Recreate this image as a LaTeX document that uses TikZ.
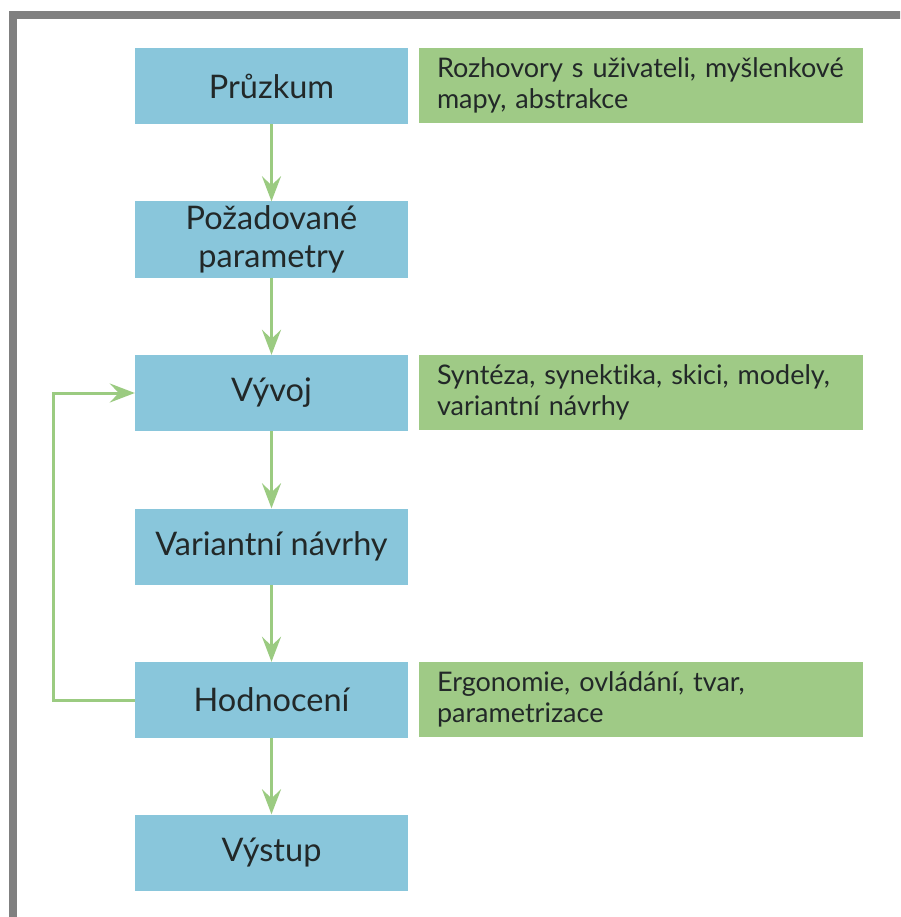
\documentclass[tikz,border=0pt]{standalone}
\usepackage{fontspec}
\setmainfont{Lato}[Ligatures={NoCommon}]
\usetikzlibrary{arrows.meta}
\definecolor{stepblue}{HTML}{89C6DB}
\definecolor{notegreen}{HTML}{9FCA86}
\definecolor{flowgreen}{HTML}{9BCB81}
\definecolor{frame}{HTML}{808080}
\definecolor{ink}{HTML}{222828}
\begin{document}
\begin{tikzpicture}[x=1pt,y=-1pt,
  stepbox/.style={fill=stepblue, minimum width=273pt, minimum height=76pt,
    inner sep=0pt, align=center, text=ink, font=\fontsize{32.5}{38}\selectfont},
  notebox/.style={fill=notegreen, minimum width=444pt, minimum height=75pt,
    text width=408pt, inner xsep=18pt, inner ysep=0pt, align=left, text=ink,
    font=\fontsize{27}{31}\selectfont},
  flow/.style={draw=flowgreen, line width=3pt,
    -{Stealth[length=25pt,width=19pt,inset=9pt]}}]
\useasboundingbox (0,0) rectangle (900,917);
\fill[white] (0,0) rectangle (900,917);
\begin{scope}
  \clip (0,0) rectangle (900,917);
  % outer frame, open to the right and bottom
  \draw[frame, line width=8pt] (12.5,940) -- (12.5,15.5) -- (920,15.5);
\end{scope}

% main process steps
\node[stepbox] (s1) at (271.5,86)  {Průzkum};
\node[stepbox] (s2) at (271.5,239.5) {Požadované\\parametry};
\node[stepbox] (s3) at (271.5,393) {Vývoj};
\node[stepbox] (s4) at (271.5,546.5) {Variantní návrhy};
\node[stepbox] (s5) at (271.5,700) {Hodnocení};
\node[stepbox] (s6) at (271.5,852.5) {Výstup};

% notes beside the steps
\node[notebox] (n1) at (641,85.5)  {Rozhovory s uživateli, myšlenkové\\mapy, abstrakce};
\node[notebox] (n3) at (641,392.5) {Syntéza, synektika, skici, modely,\\variantní návrhy};
\node[notebox] (n5) at (641,699.5) {Ergonomie, ovládání, tvar,\\parametrizace};

% flow between the steps
\draw[flow] (s1) -- (s2);
\draw[flow] (s2) -- (s3);
\draw[flow] (s3) -- (s4);
\draw[flow] (s4) -- (s5);
\draw[flow] (s5) -- (s6);

% feedback loop from evaluation back to development
\coordinate (loop) at (53,0);
\draw[flow] (s5.west) -- (s5.west -| loop) -- (s3.west -| loop) -- (s3.west);
\end{tikzpicture}
\end{document}
